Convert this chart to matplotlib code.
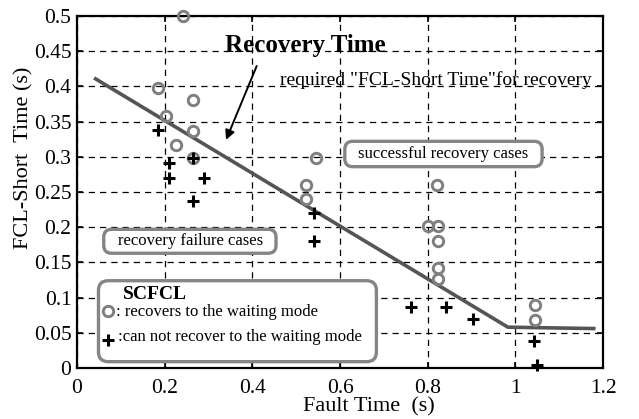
import matplotlib
matplotlib.use("Agg")
import matplotlib.pyplot as plt
from matplotlib.patches import FancyBboxPatch

plt.rcParams['font.family'] = ['Liberation Serif', 'DejaVu Serif']

# Data
circle_x = [0.242, 0.185, 0.265, 0.203, 0.265, 0.226, 0.265, 0.545, 0.522, 0.522,
            0.821, 0.800, 0.823, 0.823, 0.823, 0.823, 1.045, 1.045]
circle_y = [0.500, 0.398, 0.381, 0.358, 0.337, 0.317, 0.298, 0.298, 0.260, 0.240,
            0.260, 0.202, 0.202, 0.180, 0.142, 0.126, 0.090, 0.068]
plus_x = [0.185, 0.210, 0.210, 0.265, 0.290, 0.265, 0.540, 0.540, 0.762, 0.842,
          0.903, 1.042, 1.050]
plus_y = [0.338, 0.291, 0.270, 0.298, 0.270, 0.237, 0.220, 0.180, 0.087, 0.087,
          0.070, 0.038, 0.004]
line_x = [0.039, 0.983, 1.183]
line_y = [0.412, 0.058, 0.056]

xticks = [0, 0.2, 0.4, 0.6, 0.8, 1.0, 1.2]
xticklabels = ["0", "0.2", "0.4", "0.6", "0.8", "1", "1.2"]
yticks = [0, 0.05, 0.1, 0.15, 0.2, 0.25, 0.3, 0.35, 0.4, 0.45, 0.5]
yticklabels = ["0", "0.05", "0.1", "0.15", "0.2", "0.25", "0.3", "0.35", "0.4", "0.45", "0.5"]

fig = plt.figure(figsize=(6.39, 4.19), dpi=100)
ax = fig.add_axes([0.1205, 0.1217, 0.9437 - 0.1205, 0.9618 - 0.1217])
ax.set_xlim(0, 1.2)
ax.set_ylim(0, 0.5)
ax.set_xticks(xticks)
ax.set_xticklabels(xticklabels)
ax.set_yticks(yticks)
ax.set_yticklabels(yticklabels)
ax.tick_params(direction='in', length=4, width=1.2, top=True, right=True,
               labelsize=15.5)
ax.tick_params(axis='y', pad=4)
ax.tick_params(axis='x', pad=8)
for s in ax.spines.values():
    s.set_linewidth(1.6)
ax.grid(True, color='black', linestyle=(0, (5, 4)), linewidth=0.9)
ax.set_axisbelow(True)

ax.set_xlabel("Fault Time  (s)", fontsize=16)
ax.set_ylabel("FCL-Short  Time (s)", fontsize=16)
ax.xaxis.set_label_coords(0.555, -0.082)
ax.yaxis.set_label_coords(-0.082, 0.597)

ax.plot(line_x, line_y, color='#555555', lw=2.6, zorder=3, solid_capstyle='butt')

ax.plot(circle_x, circle_y, 'o', mfc='none', mec='#7f7f7f', ms=7.5, mew=2.1,
        ls='none', zorder=4, clip_on=False)
ax.plot(plus_x, plus_y, '+', color='black', ms=8.5, mew=2.2, ls='none',
        zorder=5, clip_on=False)

# text boxes
asp = 438.5 / 704.0
def rbox(x0, y0, x1, y1, r):
    p = FancyBboxPatch((x0, y0), x1 - x0, y1 - y0,
                       boxstyle=f"round,pad=0,rounding_size={r}",
                       mutation_aspect=asp, fc='white', ec='#858585', lw=2.4,
                       zorder=2.5)
    ax.add_patch(p)

rbox(0.611, 0.286, 1.061, 0.322, 0.018)
ax.text(0.836, 0.304, "successful recovery cases", fontsize=12, ha='center',
        va='center', zorder=3)

rbox(0.061, 0.163, 0.454, 0.197, 0.018)
ax.text(0.258, 0.180, "recovery failure cases", fontsize=12, ha='center',
        va='center', zorder=3)

rbox(0.049, 0.009, 0.683, 0.124, 0.022)
ax.text(0.105, 0.104, "SCFCL", fontsize=14, fontweight='bold', ha='left',
        va='center', zorder=3)
ax.plot([0.0707], [0.081], 'o', mfc='none', mec='#7f7f7f', ms=7.5, mew=2.1, zorder=4)
ax.text(0.089, 0.080, ": recovers to the waiting mode", fontsize=12, ha='left',
        va='center', zorder=3)
ax.plot([0.0707], [0.0398], '+', color='black', ms=8.5, mew=2.2, zorder=4)
ax.text(0.094, 0.044, ":can not recover to the waiting mode", fontsize=12,
        ha='left', va='center', zorder=3)

ax.text(0.3375, 0.449, "Recovery Time", fontsize=18, fontweight='bold',
        ha='left', va='baseline', zorder=3)
ax.text(0.463, 0.402, "required \"FCL-Short Time\"for recovery", fontsize=14,
        ha='left', va='baseline', zorder=3)
ax.annotate("", xy=(0.34, 0.324), xytext=(0.41, 0.429),
            arrowprops=dict(arrowstyle='-|>', color='black', lw=1.4,
                            mutation_scale=14, shrinkA=0, shrinkB=0), zorder=3)

fig.savefig("out.png", dpi=100)
